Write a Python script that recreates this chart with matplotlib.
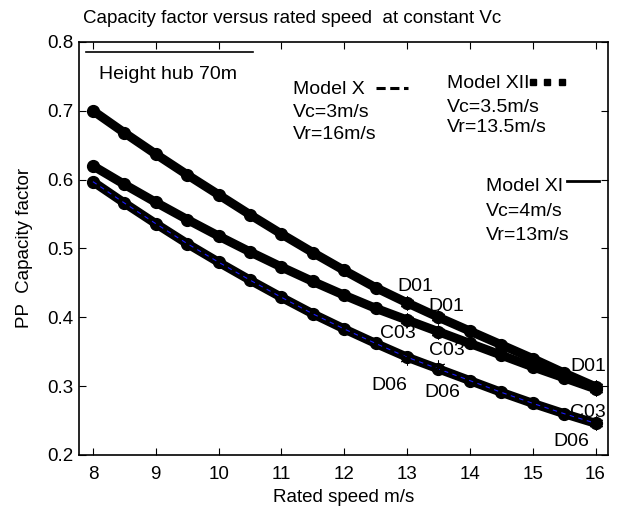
import matplotlib
matplotlib.use('Agg')
import matplotlib.pyplot as plt

plt.rcParams['font.family'] = ['Liberation Sans', 'DejaVu Sans']

# ---------------- data ----------------
rated_speed = [8.0, 8.5, 9.0, 9.5, 10.0, 10.5, 11.0, 11.5, 12.0,
               12.5, 13.0, 13.5, 14.0, 14.5, 15.0, 15.5, 16.0]
cf_D01 = [0.700, 0.668, 0.637, 0.607, 0.578, 0.549, 0.521, 0.494, 0.468,
          0.443, 0.421, 0.400, 0.380, 0.360, 0.340, 0.319, 0.299]
cf_C03 = [0.620, 0.593, 0.567, 0.542, 0.518, 0.495, 0.473, 0.452, 0.432,
          0.413, 0.396, 0.379, 0.362, 0.345, 0.328, 0.312, 0.296]
cf_D06 = [0.597, 0.566, 0.536, 0.507, 0.480, 0.454, 0.429, 0.405, 0.383,
          0.362, 0.342, 0.325, 0.308, 0.291, 0.275, 0.260, 0.246]

# rated speeds of Model XI, Model XII and Model X
model_vr = [13.0, 13.5, 16.0]
cf_D01_model = [0.421, 0.400, 0.299]
cf_C03_model = [0.396, 0.379, 0.296]
cf_D06_model = [0.341, 0.328, 0.246]

x_ticks = [8, 9, 10, 11, 12, 13, 14, 15, 16]
y_ticks = [0.2, 0.3, 0.4, 0.5, 0.6, 0.7, 0.8]

# ---------------- figure ----------------
fig = plt.figure(figsize=(6.18, 5.17), dpi=100)
ax = fig.add_axes([0.128, 0.120, 0.856, 0.799])

FS = 13.5   # axes text
FA = 14     # annotations

for cf in (cf_D01, cf_C03, cf_D06):
    ax.plot(rated_speed, cf, color='black', lw=6.5, solid_capstyle='round',
            marker='o', ms=8.5, mfc='black', mec='black', zorder=3)
ax.plot(rated_speed, cf_D06, color='#1a1aff', lw=0.8, ls=(0, (4, 4)), zorder=4)

for cf in (cf_D01_model, cf_C03_model, cf_D06_model):
    ax.plot(model_vr, cf, ls='none', marker=(6, 2, 0), ms=10, mew=0.7,
            color='black', zorder=5)

# turbine labels
lab = dict(fontsize=FA, ha='center', va='center', zorder=6)
ax.text(13.13, 0.445, 'D01', **lab)
ax.text(13.62, 0.415, 'D01', **lab)
ax.text(12.86, 0.377, 'C03', **lab)
ax.text(13.63, 0.352, 'C03', **lab)
ax.text(12.72, 0.301, 'D06', **lab)
ax.text(13.56, 0.290, 'D06', **lab)
ax.text(15.89, 0.329, 'D01', **lab)
ax.text(15.87, 0.262, 'C03', **lab)
ax.text(15.62, 0.219, 'D06', **lab)

# annotations
ax.plot([7.89, 10.55], [0.785, 0.785], color='black', lw=1.2)
ax.text(8.09, 0.752, 'Height hub 70m', fontsize=FA, va='center')

ax.text(11.18, 0.731, 'Model X', fontsize=FA, va='center')
ax.plot([12.50, 13.01], [0.733, 0.733], color='black', lw=2.2, ls=(0, (3.0, 1.5)))
ax.text(11.18, 0.698, 'Vc=3m/s', fontsize=FA, va='center')
ax.text(11.18, 0.666, 'Vr=16m/s', fontsize=FA, va='center')

ax.text(13.63, 0.740, 'Model XII', fontsize=FA, va='center')
ax.plot([15.0, 15.23, 15.46], [0.742, 0.742, 0.742], ls='none', marker='s',
        ms=4, color='black')
ax.text(13.63, 0.704, 'Vc=3.5m/s', fontsize=FA, va='center')
ax.text(13.63, 0.676, 'Vr=13.5m/s', fontsize=FA, va='center')

ax.text(14.26, 0.590, 'Model XI', fontsize=FA, va='center')
ax.plot([15.55, 16.05], [0.598, 0.598], color='black', lw=2.0)
ax.text(14.26, 0.554, 'Vc=4m/s', fontsize=FA, va='center')
ax.text(14.26, 0.519, 'Vr=13m/s', fontsize=FA, va='center')

ax.set_xlim(7.78, 16.2)
ax.set_ylim(0.2, 0.8)
ax.set_xticks(x_ticks)
ax.set_yticks(y_ticks)
ax.set_yticklabels([f'{v:.1f}' for v in y_ticks])
ax.tick_params(direction='in', length=5, width=0.8, top=True, right=True,
               labelsize=FS)
ax.tick_params(axis='x', pad=8)
ax.tick_params(axis='y', pad=4)
for s in ax.spines.values():
    s.set_linewidth(1.2)

ax.set_xlabel('Rated speed m/s', fontsize=FS, labelpad=4)
ax.set_ylabel('PP  Capacity factor', fontsize=FS, labelpad=10)
fig.text(0.472, 0.965, 'Capacity factor versus rated speed  at constant Vc',
         fontsize=FS, ha='center', va='center')

fig.savefig('out.png', dpi=100)
